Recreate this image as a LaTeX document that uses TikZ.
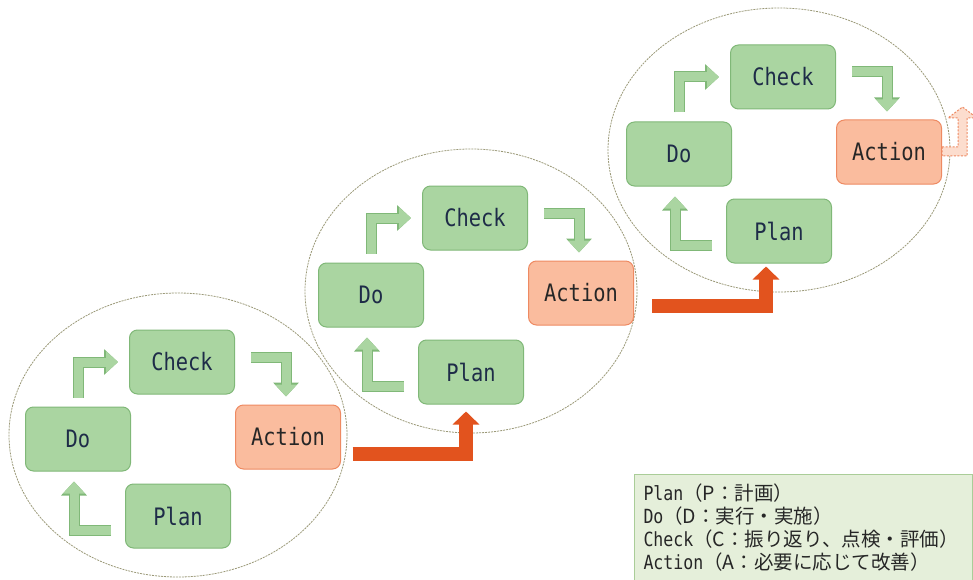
\documentclass[tikz,border=0pt]{standalone}
\usepackage{fontspec}
\usepackage{tikz}
\usetikzlibrary{calc,arrows.meta}
\usepackage{xcolor}
\newfontfamily\boxfont[FakeStretch=0.85]{DejaVu Sans Mono}
\newfontfamily\jpfont{Noto Sans CJK JP}
\definecolor{phasegreen}{RGB}{170,213,161}
\definecolor{phaseedge}{RGB}{128,184,120}
\definecolor{actorange}{RGB}{250,188,158}
\definecolor{actedge}{RGB}{238,138,98}
\definecolor{stepred}{RGB}{226,83,30}
\definecolor{ringline}{RGB}{155,153,120}
\definecolor{inkblue}{RGB}{30,44,72}
\definecolor{legendfill}{RGB}{229,239,218}
\definecolor{legendedge}{RGB}{170,205,152}
\tikzset{
  phase/.style={draw=phaseedge, line width=1pt, fill=phasegreen, rounded corners=8pt, minimum width=105pt, minimum height=64pt, text=inkblue, font=\boxfont\fontsize{24}{28}\selectfont},
  actbox/.style={phase, draw=actedge, fill=actorange, text=black!85},
  cyclering/.style={draw=ringline, line width=0.8pt, dash pattern=on 2pt off 1pt},
  garrow/.style={draw=phasegreen, line width=9pt, -{Triangle[length=12pt,width=21pt]}, preaction={draw=phaseedge, line width=11pt, -{Triangle[length=14pt,width=25pt]}}},
  redarrow/.style={draw=stepred, line width=14pt, -{Triangle[length=13pt,width=26pt]}},
  fadearrow/.style={draw=actedge, fill=actorange!50, line width=1pt, dash pattern=on 2pt off 1.5pt},
  legendbox/.style={draw=legendedge, fill=legendfill, line width=1pt, minimum width=338pt, minimum height=106pt, text width=320pt, inner xsep=9pt, align=left, text=black!85, font=\boxfont\fontsize{19.5}{23}\selectfont}
}

\begin{document}
\begin{tikzpicture}[x=1pt, y=-1pt]
\useasboundingbox (0,0) rectangle (973,580);
\clip (0,0) rectangle (973,580);
\fill[white] (0,0) rectangle (973,580);
\coordinate (cycle1) at (178,435);
\coordinate (cycle2) at (471,291);
\coordinate (cycle3) at (779,150);
\draw[cyclering] (cycle1) ellipse [x radius=169pt, y radius=142pt];
\draw[cyclering] (cycle2) ellipse [x radius=166pt, y radius=142pt];
\draw[cyclering] (cycle3) ellipse [x radius=171pt, y radius=142pt];
\node[phase] (check1) at ($(cycle1)+(4,-73)$) {Check};
\node[phase] (do1) at ($(cycle1)+(-100,4)$) {Do};
\node[actbox] (act1) at ($(cycle1)+(110,2)$) {Action};
\node[phase] (plan1) at ($(cycle1)+(0,81)$) {Plan};
\node[phase] (check2) at ($(cycle2)+(4,-73)$) {Check};
\node[phase] (do2) at ($(cycle2)+(-100,4)$) {Do};
\node[actbox] (act2) at ($(cycle2)+(110,2)$) {Action};
\node[phase] (plan2) at ($(cycle2)+(0,81)$) {Plan};
\node[phase] (check3) at ($(cycle3)+(4,-73)$) {Check};
\node[phase] (do3) at ($(cycle3)+(-100,4)$) {Do};
\node[actbox] (act3) at ($(cycle3)+(110,2)$) {Action};
\node[phase] (plan3) at ($(cycle3)+(0,81)$) {Plan};
\draw[garrow] ($(plan1.west)+(-14,14)$) -| ($(do1.south)+(-4,10)$);
\draw[garrow] ($(do1.north)+(0,-9)$) |- ($(check1.west)+(-11,0)$);
\draw[garrow] ($(check1.east)+(16,-5)$) -| ($(act1.north)+(-2,-8)$);
\draw[garrow] ($(plan2.west)+(-14,14)$) -| ($(do2.south)+(-4,10)$);
\draw[garrow] ($(do2.north)+(0,-9)$) |- ($(check2.west)+(-11,0)$);
\draw[garrow] ($(check2.east)+(16,-5)$) -| ($(act2.north)+(-2,-8)$);
\draw[garrow] ($(plan3.west)+(-14,14)$) -| ($(do3.south)+(-4,10)$);
\draw[garrow] ($(do3.north)+(0,-9)$) |- ($(check3.west)+(-11,0)$);
\draw[garrow] ($(check3.east)+(16,-5)$) -| ($(act3.north)+(-2,-8)$);
\draw[redarrow] ($(act1.east)+(11.5,17)$) -| ($(plan2.south)+(-5,7)$);
\draw[redarrow] ($(act2.east)+(18,13)$) -| ($(plan3.south)+(-13,3)$);
\draw[fadearrow] ($(act3.east)+(0,-5)$) -- ++(16,0) -- ++(0,-29) -- ++(-10,0) -- ++(14.5,-11) -- ++(14.5,11) -- ++(-10,0) -- ++(0,38) -- ++(-25,0) -- cycle;
\node[legendbox, anchor=north west] (legend) at (634,474) {{Plan{\jpfont（P：計画）}}\\{Do{\jpfont（D：実行・実施）}}\\{Check{\jpfont（C：振り返り、点検・評価）}}\\{Action{\jpfont（A：必要に応じて改善）}}};
\end{tikzpicture}
\end{document}
